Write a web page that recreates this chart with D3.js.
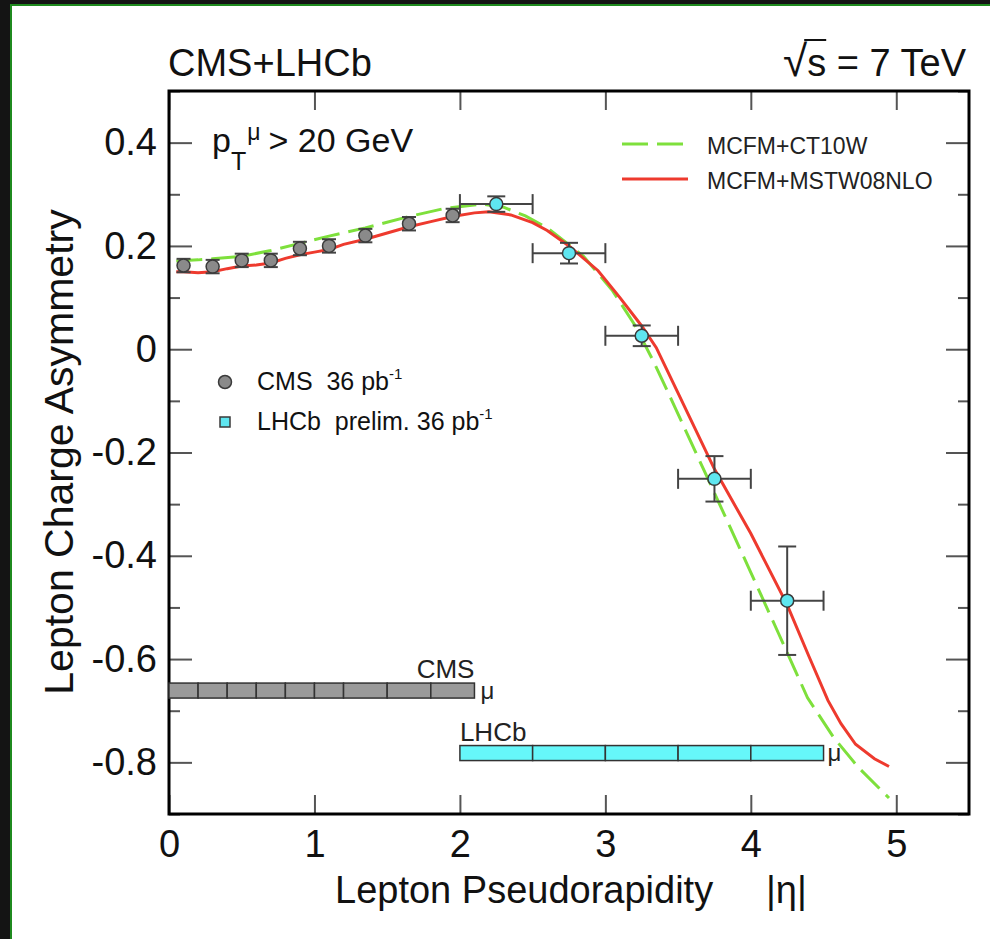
<!DOCTYPE html>
<html><head><meta charset="utf-8">
<script src="https://cdn.jsdelivr.net/npm/d3@7/dist/d3.min.js"></script>
<style>
body{margin:0;background:#fff}
svg{display:block;font-family:"Liberation Sans",Arial,Helvetica,sans-serif}
</style></head><body>
<svg id="svg" width="990" height="939"></svg>
<script>
// CMS muon bins (|eta| edges) and measured asymmetry
const cmsEdges = [0, 0.2, 0.4, 0.6, 0.8, 1.0, 1.2, 1.5, 1.8, 2.1];
const cmsAsym  = [0.162, 0.160, 0.172, 0.172, 0.195, 0.200, 0.220, 0.243, 0.259];
const cmsErr   = [0.013, 0.013, 0.013, 0.013, 0.013, 0.013, 0.013, 0.013, 0.013];

// LHCb preliminary bins
const lhcbEdges = [2.0, 2.5, 3.0, 3.5, 4.0, 4.5];
const lhcbAsym  = [0.281, 0.186, 0.026, -0.251, -0.487];
const lhcbErr   = [0.015, 0.020, 0.020, 0.044, 0.105];

// theory: MCFM+MSTW08NLO
const mstwEta  = [0.05, 0.1, 0.2, 0.3, 0.4, 0.5, 0.6, 0.7, 0.8, 0.9, 1.0, 1.1, 1.2, 1.35, 1.5, 1.65, 1.8, 1.95, 2.1, 2.2, 2.35, 2.5, 2.6, 2.75, 2.95, 3.1, 3.25, 3.35, 3.5, 3.75, 4.0, 4.25, 4.4, 4.53, 4.62, 4.72, 4.85, 4.95];
const mstwAsym = [0.150, 0.150, 0.148, 0.150, 0.156, 0.161, 0.163, 0.167, 0.176, 0.183, 0.188, 0.193, 0.203, 0.213, 0.225, 0.237, 0.247, 0.257, 0.264, 0.266, 0.260, 0.245, 0.230, 0.200, 0.152, 0.100, 0.045, 0.003, -0.085, -0.232, -0.357, -0.495, -0.595, -0.680, -0.725, -0.765, -0.793, -0.808];

// theory: MCFM+CT10W
const ct10Eta  = [0.05, 0.2, 0.3, 0.5, 0.7, 0.9, 1.1, 1.35, 1.65, 1.9, 2.15, 2.3, 2.45, 2.6, 2.85, 3.05, 3.2, 3.33, 3.45, 3.72, 3.98, 4.19, 4.39, 4.57, 4.74, 4.95];
const ct10Asym = [0.171, 0.173, 0.175, 0.180, 0.191, 0.205, 0.219, 0.235, 0.257, 0.273, 0.281, 0.275, 0.258, 0.235, 0.180, 0.113, 0.048, -0.023, -0.095, -0.260, -0.420, -0.550, -0.675, -0.752, -0.810, -0.869];

const xTicks = [0, 1, 2, 3, 4, 5];
const yMajor = [-0.8, -0.6, -0.4, -0.2, 0, 0.2, 0.4];
const yMinor = [-0.9, -0.7, -0.5, -0.3, -0.1, 0.1, 0.3, 0.5];

const svg = d3.select('#svg');
const W = 990, H = 939;
const m = { left: 169, right: 969, top: 91, bottom: 814 };

const x = d3.scaleLinear().domain([0, 5.5]).range([m.left, m.right]);
const y = d3.scaleLinear().domain([-0.9, 0.5]).range([m.bottom, m.top]);

// screenshot edge: dark strip left and top with a green line
svg.append('rect').attr('width', W).attr('height', H).attr('fill', '#141414');
svg.append('rect').attr('x', 11).attr('y', 5).attr('width', W).attr('height', H).attr('fill', '#fff');
svg.append('path').attr('d', `M11,${H}V5H${W}`).attr('fill', 'none')
  .attr('stroke', '#1f8a1f').attr('stroke-width', 2);

const fmt = d => d === 0 ? '0' : d.toFixed(1);
const tickStyle = g => {
  g.select('.domain').remove();
  g.selectAll('.tick line').attr('stroke', '#555').attr('stroke-width', 2);
  g.selectAll('.tick text').attr('fill', '#111').style('font-size', '38px');
};

svg.append('g').attr('transform', `translate(0,${m.bottom})`)
  .call(d3.axisBottom(x).tickValues(xTicks).tickFormat(d3.format('d')).tickSizeInner(-19).tickSizeOuter(0).tickPadding(16))
  .call(tickStyle);
svg.append('g').attr('transform', `translate(0,${m.top})`)
  .call(d3.axisTop(x).tickValues(xTicks).tickFormat('').tickSizeInner(-19).tickSizeOuter(0))
  .call(tickStyle);
svg.append('g').attr('transform', `translate(${m.left},0)`)
  .call(d3.axisLeft(y).tickValues(yMajor).tickFormat(fmt).tickSizeInner(-23).tickSizeOuter(0).tickPadding(12))
  .call(tickStyle);
svg.append('g').attr('transform', `translate(${m.left},0)`)
  .call(d3.axisLeft(y).tickValues(yMinor).tickFormat('').tickSizeInner(-11).tickSizeOuter(0))
  .call(tickStyle);
svg.append('g').attr('transform', `translate(${m.right},0)`)
  .call(d3.axisRight(y).tickValues(yMajor).tickFormat('').tickSizeInner(-23).tickSizeOuter(0))
  .call(tickStyle);
svg.append('g').attr('transform', `translate(${m.right},0)`)
  .call(d3.axisRight(y).tickValues(yMinor).tickFormat('').tickSizeInner(-11).tickSizeOuter(0))
  .call(tickStyle);

// frame
svg.append('rect').attr('x', m.left).attr('y', m.top)
  .attr('width', m.right - m.left).attr('height', m.bottom - m.top)
  .attr('fill', 'none').attr('stroke', '#000').attr('stroke-width', 3);

// acceptance bars
const bars = (edges, level, fill) => {
  const g = svg.append('g');
  g.selectAll('rect').data(d3.pairs(edges)).join('rect')
    .attr('x', d => x(d[0])).attr('width', d => x(d[1]) - x(d[0]))
    .attr('y', y(level) - 7.5).attr('height', 15)
    .attr('fill', fill).attr('stroke', '#333').attr('stroke-width', 1.5);
};
bars(cmsEdges, -0.661, '#9a9a9a');
bars(lhcbEdges, -0.782, '#66f7fa');
svg.append('text').attr('x', x(2.1)).attr('y', y(-0.661) - 13).attr('text-anchor', 'end')
  .style('font-size', '26px').attr('fill', '#222').text('CMS');
svg.append('text').attr('x', x(2.1) + 6).attr('y', y(-0.661) + 8)
  .style('font-size', '24px').attr('fill', '#222').text('μ');
svg.append('text').attr('x', x(2.0)).attr('y', y(-0.782) - 12)
  .style('font-size', '26px').attr('fill', '#222').text('LHCb');
svg.append('text').attr('x', x(4.5) + 4).attr('y', y(-0.782) + 8)
  .style('font-size', '24px').attr('fill', '#222').text('μ');

// theory curves
const line = d3.line().x(d => x(d[0])).y(d => y(d[1]));
svg.append('path').datum(d3.zip(ct10Eta, ct10Asym)).attr('d', line)
  .attr('fill', 'none').attr('stroke', '#7ee03c').attr('stroke-width', 3).attr('stroke-dasharray', '26,9');
svg.append('path').datum(d3.zip(mstwEta, mstwAsym)).attr('d', line)
  .attr('fill', 'none').attr('stroke', '#ee3a2e').attr('stroke-width', 3);

// data points with error bars
const errCol = '#444';
const cms = cmsAsym.map((v, i) => ({ c: (cmsEdges[i] + cmsEdges[i + 1]) / 2, v, e: cmsErr[i] }));
const lhcb = lhcbAsym.map((v, i) => ({ c: (lhcbEdges[i] + lhcbEdges[i + 1]) / 2, lo: lhcbEdges[i], hi: lhcbEdges[i + 1], v, e: lhcbErr[i] }));

const gE = svg.append('g').attr('stroke', errCol).attr('stroke-width', 2);
cms.forEach(d => {
  gE.append('line').attr('x1', x(d.c)).attr('x2', x(d.c)).attr('y1', y(d.v - d.e)).attr('y2', y(d.v + d.e));
  [d.v - d.e, d.v + d.e].forEach(t => gE.append('line').attr('x1', x(d.c) - 7).attr('x2', x(d.c) + 7).attr('y1', y(t)).attr('y2', y(t)));
});
lhcb.forEach(d => {
  gE.append('line').attr('x1', x(d.c)).attr('x2', x(d.c)).attr('y1', y(d.v - d.e)).attr('y2', y(d.v + d.e));
  [d.v - d.e, d.v + d.e].forEach(t => gE.append('line').attr('x1', x(d.c) - 9).attr('x2', x(d.c) + 9).attr('y1', y(t)).attr('y2', y(t)));
  gE.append('line').attr('x1', x(d.lo)).attr('x2', x(d.hi)).attr('y1', y(d.v)).attr('y2', y(d.v));
  [d.lo, d.hi].forEach(t => gE.append('line').attr('x1', x(t)).attr('x2', x(t)).attr('y1', y(d.v) - 10).attr('y2', y(d.v) + 10));
});
svg.append('g').selectAll('circle').data(cms).join('circle')
  .attr('cx', d => x(d.c)).attr('cy', d => y(d.v)).attr('r', 6.5)
  .attr('fill', '#8a8a8a').attr('stroke', '#3a3a3a').attr('stroke-width', 1.5);
svg.append('g').selectAll('circle').data(lhcb).join('circle')
  .attr('cx', d => x(d.c)).attr('cy', d => y(d.v)).attr('r', 6.5)
  .attr('fill', '#5fe6f0').attr('stroke', '#3a3a3a').attr('stroke-width', 1.5);

// titles
svg.append('text').attr('x', 168).attr('y', 76).style('font-size', '38px').attr('fill', '#111').text('CMS+LHCb');
const rt = svg.append('text').attr('x', 966).attr('y', 76).attr('text-anchor', 'end')
  .style('font-size', '38px').attr('fill', '#111');
rt.append('tspan').style('font-size', '44px').text('√');
rt.append('tspan').text('s = 7 TeV');
const sBox = rt.node().getExtentOfChar(1);
const rBox = rt.node().getExtentOfChar(0);
svg.append('line').attr('x1', rBox.x + rBox.width - 3).attr('x2', sBox.x + sBox.width)
  .attr('y1', 76 - 36).attr('y2', 76 - 36).attr('stroke', '#111').attr('stroke-width', 2);

// axis titles
svg.append('text').attr('x', 335).attr('y', 903).style('font-size', '38px').attr('fill', '#111')
  .text('Lepton Pseudorapidity');
svg.append('text').attr('x', 766).attr('y', 903).style('font-size', '38px').attr('fill', '#111')
  .text('|η|');
svg.append('text').attr('transform', 'translate(73,452) rotate(-90)').attr('text-anchor', 'middle')
  .style('font-size', '41px').attr('fill', '#111').text('Lepton Charge Asymmetry');

// pT cut label
const pt = svg.append('text').attr('x', 212).attr('y', 152).style('font-size', '34px').attr('fill', '#111');
pt.append('tspan').text('p');
pt.append('tspan').attr('dy', 18).style('font-size', '25px').text('T');
pt.append('tspan').attr('dx', 1).attr('dy', -30).style('font-size', '23px').text('μ');
pt.append('tspan').attr('dx', 8).attr('dy', 12).text('> 20 GeV');

// theory legend
const leg = [
  { label: 'MCFM+CT10W', col: '#7ee03c', dash: '26,9', yy: 144 },
  { label: 'MCFM+MSTW08NLO', col: '#ee3a2e', dash: null, yy: 179 }
];
leg.forEach(d => {
  svg.append('line').attr('x1', 622).attr('x2', 688).attr('y1', d.yy).attr('y2', d.yy)
    .attr('stroke', d.col).attr('stroke-width', 3).attr('stroke-dasharray', d.dash);
  svg.append('text').attr('x', 707).attr('y', d.yy + 10).style('font-size', '23px').attr('fill', '#222').text(d.label);
});

// data legend
svg.append('circle').attr('cx', 225).attr('cy', 382).attr('r', 6.5)
  .attr('fill', '#8a8a8a').attr('stroke', '#3a3a3a').attr('stroke-width', 1.5);
svg.append('rect').attr('x', 220).attr('y', 417).attr('width', 10).attr('height', 10)
  .attr('fill', '#5fe6f0').attr('stroke', '#3a3a3a').attr('stroke-width', 1.5);
const dl = [{ t: 'CMS  36 pb', yy: 390 }, { t: 'LHCb  prelim. 36 pb', yy: 430 }];
dl.forEach(d => {
  const t = svg.append('text').attr('x', 257).attr('y', d.yy).style('font-size', '25px')
    .style('white-space', 'pre').attr('fill', '#111');
  t.append('tspan').text(d.t);
  t.append('tspan').attr('dy', -11).style('font-size', '15px').text('-1');
});
</script>
</body></html>
